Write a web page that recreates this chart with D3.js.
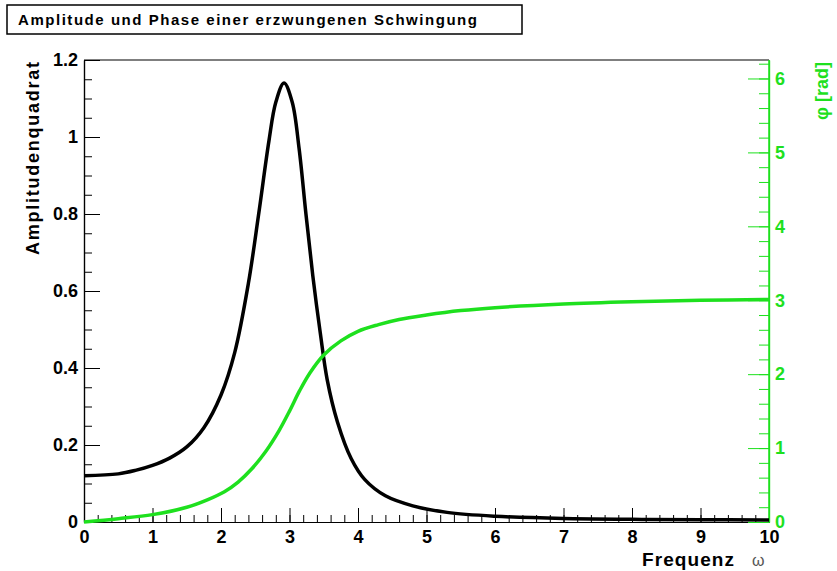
<!DOCTYPE html>
<html>
<head>
<meta charset="utf-8">
<script src="https://cdn.jsdelivr.net/npm/d3@7"></script>
<style>
  body { margin: 0; background: #fff; }
  svg { display: block; font-family: "Liberation Sans", Arial, sans-serif; }
</style>
</head>
<body>
<svg id="chart" width="837" height="571"></svg>
<script>
// Amplitudenquadrat
const ampOmega = [0, 0.5, 0.75, 1.0, 1.25, 1.5, 1.75, 2.0, 2.2, 2.4, 2.55, 2.7, 2.8, 2.92, 3.04, 3.14, 3.24, 3.34, 3.45, 3.55, 3.7, 3.9, 4.1, 4.4, 4.8, 5.3, 6, 7, 8, 9, 10]
const ampSq = [0.120, 0.125, 0.134, 0.147, 0.166, 0.195, 0.245, 0.33, 0.44, 0.62, 0.80, 0.99, 1.09, 1.14, 1.09, 0.97, 0.80, 0.64, 0.49, 0.37, 0.26, 0.165, 0.11, 0.068, 0.042, 0.025, 0.015, 0.009, 0.007, 0.006, 0.005]

// Phase phi [rad]
const phaseOmega = [0, 0.5, 1.0, 1.5, 1.8, 2.05, 2.25, 2.45, 2.65, 2.85, 3.0, 3.15, 3.3, 3.5, 3.75, 4.0, 4.3, 4.6, 5.0, 5.5, 6, 7, 8, 9, 10]
const phase = [0, 0.045, 0.10, 0.20, 0.30, 0.41, 0.54, 0.72, 0.95, 1.24, 1.50, 1.78, 2.02, 2.26, 2.45, 2.58, 2.67, 2.74, 2.80, 2.86, 2.90, 2.95, 2.98, 3.00, 3.01]

const xTicks = [0, 1, 2, 3, 4, 5, 6, 7, 8, 9, 10]
const yTicks = [0, 0.2, 0.4, 0.6, 0.8, 1, 1.2]
const phiTicks = [0, 1, 2, 3, 4, 5, 6]

const green = "#1ee01e"
const pLeft = 84, pRight = 769, pTop = 60, pBottom = 522

const svg = d3.select("#chart")

const x = d3.scaleLinear().domain([0, 10]).range([pLeft, pRight])
const y = d3.scaleLinear().domain([0, 1.2]).range([pBottom, pTop])
const yPhi = d3.scaleLinear().domain([0, 6.25]).range([pBottom, pTop])

// Titelbox
svg.append("rect")
    .attr("x", 7).attr("y", 5).attr("width", 515).attr("height", 29)
    .attr("fill", "white").attr("stroke", "black").attr("stroke-width", 1.5)
svg.append("text")
    .attr("x", 18).attr("y", 25)
    .attr("textLength", 459).attr("lengthAdjust", "spacing")
    .style("font-size", "15px").style("font-weight", "bold")
    .text("Amplitude und Phase einer erzwungenen Schwingung")

// Achsen
const fmt = d => d3.format("~g")(d)

svg.append("g")
    .attr("transform", `translate(0,${pBottom})`)
    .call(d3.axisBottom(x).tickValues(d3.range(0, 10.01, 0.2)).tickFormat("").tickSize(-7).tickSizeOuter(0))
svg.append("g")
    .attr("class", "xaxis")
    .attr("transform", `translate(0,${pBottom})`)
    .call(d3.axisBottom(x).tickValues(xTicks).tickFormat(fmt).tickSize(-14).tickSizeOuter(0).tickPadding(8))

svg.append("g")
    .attr("transform", `translate(${pLeft},0)`)
    .call(d3.axisLeft(y).tickValues(d3.range(0, 1.201, 0.05)).tickFormat("").tickSize(-8).tickSizeOuter(0))
svg.append("g")
    .attr("class", "yaxis")
    .attr("transform", `translate(${pLeft},0)`)
    .call(d3.axisLeft(y).tickValues(yTicks).tickFormat(fmt).tickSize(-16).tickSizeOuter(0).tickPadding(6))

const rAxis = svg.append("g").attr("transform", `translate(${pRight},0)`)
rAxis.call(d3.axisRight(yPhi).tickValues(d3.range(0, 6.21, 0.2)).tickFormat("").tickSize(-10).tickSizeOuter(0))
rAxis.append("g").call(d3.axisRight(yPhi).tickValues(phiTicks).tickFormat(fmt).tickSize(-21).tickSizeOuter(0).tickPadding(6))
rAxis.selectAll("line, path").attr("stroke", green)
rAxis.selectAll("text").attr("fill", green)

svg.selectAll(".tick text")
    .style("font-size", "18px").style("font-weight", "bold")
svg.selectAll(".xaxis .tick line, .yaxis .tick line").attr("stroke", "black")
svg.selectAll("path.domain").attr("stroke-width", 1.2)

// Rahmen oben
svg.append("line")
    .attr("x1", pLeft).attr("x2", pRight).attr("y1", pTop).attr("y2", pTop)
    .attr("stroke", "black").attr("stroke-width", 1.2)
svg.append("line")
    .attr("x1", pRight).attr("x2", pRight).attr("y1", pTop).attr("y2", pBottom)
    .attr("stroke", green).attr("stroke-width", 1.5)

// Kurven
const ampLine = d3.line()
    .x((d, i) => x(ampOmega[i]))
    .y(d => y(d))
    .curve(d3.curveCatmullRom.alpha(0.5))
svg.append("path")
    .datum(ampSq)
    .attr("d", ampLine)
    .attr("fill", "none").attr("stroke", "black").attr("stroke-width", 3.5)

const phiLine = d3.line()
    .x((d, i) => x(phaseOmega[i]))
    .y(d => yPhi(d))
    .curve(d3.curveCatmullRom.alpha(0.5))
svg.append("path")
    .datum(phase)
    .attr("d", phiLine)
    .attr("fill", "none").attr("stroke", green).attr("stroke-width", 3.5)

// Achsentitel
svg.append("text")
    .attr("transform", "translate(39,62) rotate(-90)")
    .attr("text-anchor", "end")
    .attr("textLength", 193).attr("lengthAdjust", "spacing")
    .style("font-size", "18px").style("font-weight", "bold")
    .text("Amplitudenquadrat")

svg.append("text")
    .attr("transform", "translate(828,62) rotate(-90)")
    .attr("text-anchor", "end")
    .attr("fill", green)
    .style("font-size", "18px").style("font-weight", "bold")
    .text("φ [rad]")

svg.append("text")
    .attr("x", 642).attr("y", 566)
    .attr("textLength", 92).attr("lengthAdjust", "spacing")
    .style("font-size", "19px").style("font-weight", "bold")
    .text("Frequenz")
svg.append("text")
    .attr("x", 752).attr("y", 566)
    .attr("fill", "#555")
    .style("font-size", "16px")
    .text("ω")
</script>
</body>
</html>
